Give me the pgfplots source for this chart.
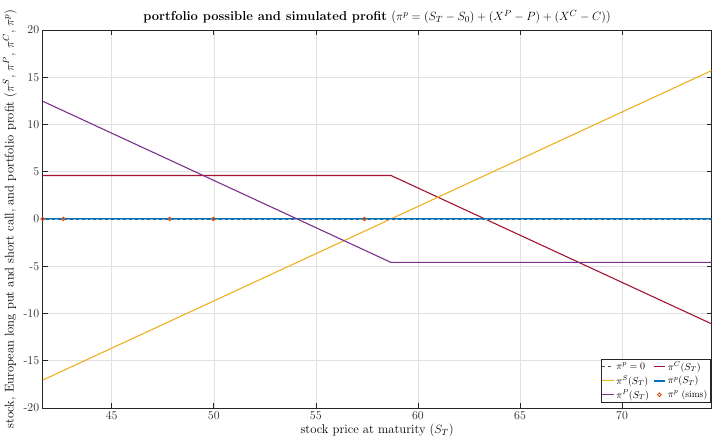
\documentclass[border=0pt]{standalone}
\usepackage{pgfplots}
\pgfplotsset{compat=1.18}
\usetikzlibrary{calc}
\definecolor{colCall}{rgb}{0.635,0.078,0.184}
\definecolor{colStock}{rgb}{0.929,0.694,0.125}
\definecolor{colPort}{rgb}{0,0.447,0.741}
\definecolor{colPut}{rgb}{0.494,0.184,0.556}
\definecolor{colSims}{rgb}{0.85,0.325,0.098}
\definecolor{axc}{rgb}{0.15,0.15,0.15}
\begin{document}
\begin{tikzpicture}
\begin{axis}[name=ax,
  scale only axis, width=669bp, height=378bp,
  xmin=41.62, xmax=74.38, ymin=-20, ymax=20,
  xtick={45,50,55,60,65,70}, ytick={-20,-15,...,20},
  grid=major, major grid style={black!12, line width=0.5pt},
  tick align=inside, axis line style={axc, line width=0.6pt},
  major tick style={axc, line width=0.6pt}, major tick length=5bp,
  ticklabel style={font=\fontsize{12}{14}\selectfont, text=axc},
  /pgf/number format/assume math mode=true,
  title={\textbf{portfolio possible and simulated profit} ($\pi^p = (S_T - S_0) + (X^P - P) + (X^C - C)$)},
  title style={font=\fontsize{13}{15}\selectfont, yshift=-3.5bp},
  xlabel={stock price at maturity ($S_T$)},
  xlabel style={font=\fontsize{12.7}{15}\selectfont, yshift=3bp},
  ylabel={stock, European long put and short call, and portfolio profit ($\pi^S$, $\pi^P$, $\pi^C$, $\pi^p$)},
  ylabel style={font=\fontsize{12.7}{15}\selectfont},
  legend columns=2,
  legend style={at={(1,0)}, anchor=south east, xshift=-1bp, yshift=5bp, font=\fontsize{9.6}{11.5}\selectfont, draw=axc, line width=0.6pt,
    inner sep=1pt, /tikz/every even column/.append style={column sep=2pt}},
  legend cell align=left,
  legend image code/.code={\draw[mark repeat=2,mark phase=2] plot coordinates {(0cm,0cm) (0.2cm,0cm) (0.4cm,0cm)};},
]
\addplot[axc!80, dashed, line width=1.1pt] coordinates {(41.62,0) (74.38,0)};
\addlegendentry{$\pi^p = 0$}
\addplot[colCall, line width=1.1pt] coordinates {(41.62,4.6) (58.68,4.6) (74.38,-11.1)};
\addlegendentry{$\pi^C(S_T)$}
\addplot[colStock, line width=1.1pt] coordinates {(41.62,-17.06) (74.38,15.70)};
\addlegendentry{$\pi^S(S_T)$}
\addplot[colPort, line width=1.4pt] coordinates {(41.62,0) (74.38,0)};
\addlegendentry{$\pi^p(S_T)$}
\addplot[colPut, line width=1.1pt] coordinates {(41.62,12.46) (58.68,-4.6) (74.38,-4.6)};
\addlegendentry{$\pi^P(S_T)$}
\addplot[colSims, only marks, mark=o, mark size=1.8pt, line width=0.9pt] coordinates {(41.62,0) (42.63,0) (47.84,0) (49.98,0) (57.38,0)};
\addlegendentry{$\pi^p$ (sims)}
\addplot[forget plot, black!35, dashed, line width=0.5pt] coordinates {(41.62,0) (74.38,0)};
\end{axis}
\pgfresetboundingbox
\path[use as bounding box] ($(ax.south west)+(-42.7bp,-31bp)$) rectangle ($(ax.north east)+(1.5bp,30bp)$);
\end{tikzpicture}
\end{document}
